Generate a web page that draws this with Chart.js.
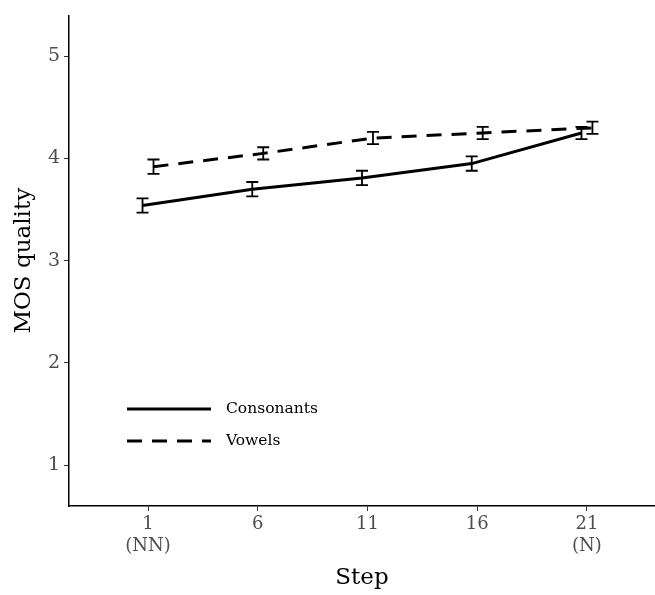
<!DOCTYPE html>
<html>
<head>
<meta charset="utf-8">
<script src="https://cdn.jsdelivr.net/npm/chart.js@4"></script>
<style>
  html, body { margin: 0; padding: 0; background: #fff; }
  #wrap { width: 655px; height: 595px; }
</style>
</head>
<body>
<div id="wrap"><canvas id="mosChart"></canvas></div>
<script>
// data
const steps = [1, 6, 11, 16, 21];
const stepNotes = ['(NN)', '', '', '', '(N)'];
const consonants = [3.54, 3.70, 3.81, 3.95, 4.25];
const consonantsErr = [0.07, 0.07, 0.07, 0.07, 0.06];
const vowels = [3.92, 4.05, 4.20, 4.25, 4.30];
const vowelsErr = [0.07, 0.06, 0.06, 0.06, 0.06];
const yTicks = [1, 2, 3, 4, 5];

const dodge = 0.25; // position dodge like ggplot
const serif = '"DejaVu Serif", "Liberation Serif", serif';

function toPoints(vals, errs, shift) {
  return steps.map((s, i) => ({ x: s + shift, y: vals[i], err: errs[i] }));
}

// draws error bars for each dataset
const errorBars = {
  id: 'errorBars',
  afterDatasetsDraw(chart) {
    const ctx = chart.ctx;
    const xs = chart.scales.x, ys = chart.scales.y;
    ctx.save();
    ctx.strokeStyle = '#000';
    ctx.lineWidth = 1.8;
    chart.data.datasets.forEach(ds => {
      ds.data.forEach(p => {
        const px = xs.getPixelForValue(p.x);
        const top = ys.getPixelForValue(p.y + p.err);
        const bot = ys.getPixelForValue(p.y - p.err);
        ctx.beginPath();
        ctx.moveTo(px, top); ctx.lineTo(px, bot);
        ctx.moveTo(px - 6, top); ctx.lineTo(px + 6, top);
        ctx.moveTo(px - 6, bot); ctx.lineTo(px + 6, bot);
        ctx.stroke();
      });
    });
    ctx.restore();
  }
};

// legend drawn inside the panel, bottom-left
const insideLegend = {
  id: 'insideLegend',
  afterDraw(chart) {
    const ctx = chart.ctx;
    const x0 = 127, y0 = 409, gap = 32;
    ctx.save();
    chart.data.datasets.forEach((ds, i) => {
      const y = y0 + i * gap;
      ctx.strokeStyle = '#000';
      ctx.lineWidth = 3;
      ctx.setLineDash(ds.borderDash || []);
      ctx.beginPath();
      ctx.moveTo(x0, y); ctx.lineTo(x0 + 84, y);
      ctx.stroke();
      ctx.setLineDash([]);
      ctx.fillStyle = '#000';
      ctx.font = '15.5px ' + serif;
      ctx.textBaseline = 'middle';
      ctx.fillText(ds.label, x0 + 99, y);
    });
    ctx.restore();
  }
};

new Chart(document.getElementById('mosChart'), {
  type: 'line',
  data: {
    datasets: [
      {
        label: 'Consonants',
        data: toPoints(consonants, consonantsErr, -dodge),
        borderColor: '#000',
        borderWidth: 3,
        pointRadius: 0,
        tension: 0
      },
      {
        label: 'Vowels',
        data: toPoints(vowels, vowelsErr, dodge),
        borderColor: '#000',
        borderWidth: 3,
        borderDash: [15, 10],
        pointRadius: 0,
        tension: 0
      }
    ]
  },
  options: {
    responsive: true,
    maintainAspectRatio: false,
    animation: false,
    layout: { padding: { top: 8, right: 0, left: 0, bottom: 0 } },
    plugins: {
      legend: { display: false },
      tooltip: { enabled: false }
    },
    scales: {
      x: {
        type: 'linear',
        min: -2.6,
        max: 24.1,
        afterBuildTicks(scale) { scale.ticks = steps.map(v => ({ value: v })); },
        afterFit(scale) { scale.height = 89; },
        border: { color: '#000', width: 1.5 },
        grid: { drawOnChartArea: false, tickLength: 5, color: '#333' },
        ticks: {
          color: '#4d4d4d',
          font: { family: serif, size: 18 },
          padding: 3,
          maxRotation: 0,
          callback(v) {
            const i = steps.indexOf(v);
            return stepNotes[i] ? [String(v), stepNotes[i]] : String(v);
          }
        },
        title: {
          display: true,
          text: 'Step',
          color: '#000',
          font: { family: serif, size: 23 },
          padding: { top: 0, bottom: 3 }
        }
      },
      y: {
        min: 0.6,
        max: 5.4,
        afterBuildTicks(scale) { scale.ticks = yTicks.map(v => ({ value: v })); },
        afterFit(scale) { scale.width = 69; },
        border: { color: '#000', width: 1.5 },
        grid: { drawOnChartArea: false, tickLength: 5, color: '#333' },
        ticks: {
          color: '#4d4d4d',
          font: { family: serif, size: 19 },
          padding: 4
        },
        title: {
          display: true,
          text: 'MOS quality',
          color: '#000',
          font: { family: serif, size: 23 },
          padding: { top: 10, bottom: 0 }
        }
      }
    }
  },
  plugins: [errorBars, insideLegend]
});
</script>
</body>
</html>
